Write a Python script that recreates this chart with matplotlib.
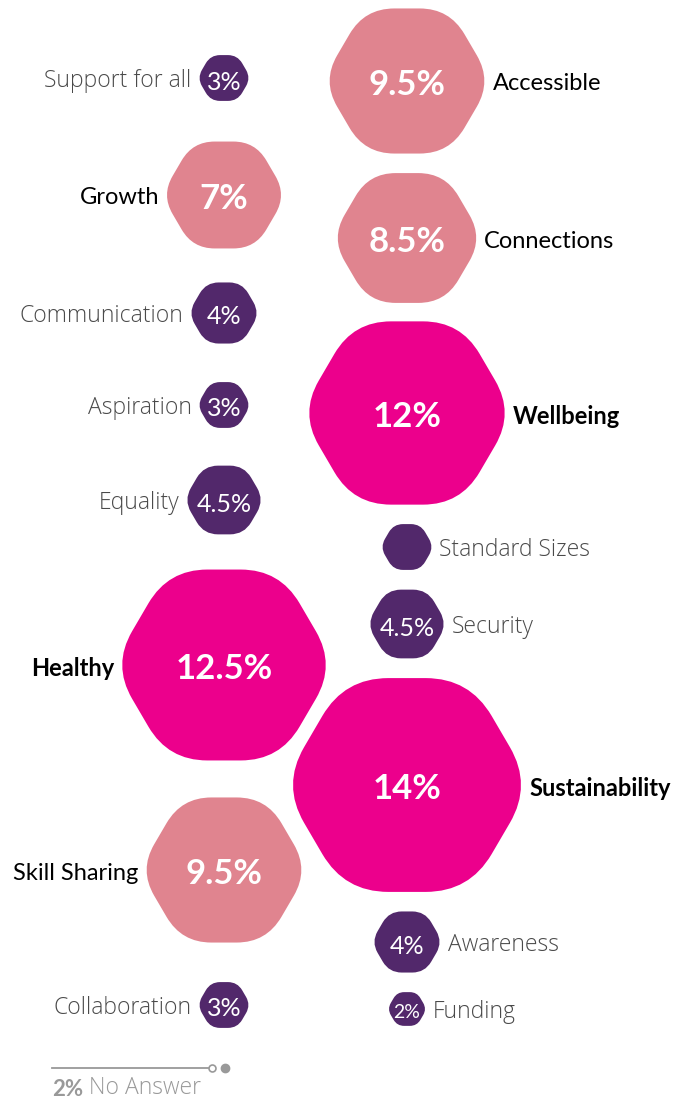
import matplotlib
matplotlib.use('Agg')
import matplotlib.pyplot as plt
from matplotlib.path import Path
from matplotlib.patches import PathPatch
import numpy as np

plt.rcParams['font.family'] = ['Lato', 'DejaVu Sans']
THIN = ['Open Sans', 'DejaVu Sans']

# survey answers
labels = ['Support for all', 'Accessible', 'Growth', 'Connections', 'Communication',
          'Wellbeing', 'Aspiration', 'Equality', 'Security', 'Healthy',
          'Sustainability', 'Skill Sharing', 'Awareness', 'Collaboration', 'Funding']
values = [3, 9.5, 7, 8.5, 4, 12, 3, 4.5, 4.5, 12.5, 14, 9.5, 4, 3, 2]
no_answer = 2
standard_size = 3

# layout: column and vertical centre of each hexagon
side = ['L', 'R', 'L', 'R', 'L', 'R', 'L', 'L', 'R', 'L', 'R', 'L', 'R', 'L', 'R']
ypos = [78, 81, 195, 238, 313, 413, 405, 500, 624, 665, 785, 870, 942, 1005, 1009]
col_x = {'L': 224, 'R': 407}

MAGENTA = '#EC008C'
PINK = '#E0848F'
PURPLE = '#52286B'
GREY = '#4a4a4a'

PX_PER_PCT = 8.15   # half width on screen per percent
MIN_HALF_W = 18     # smallest hexagons still need room for their text
ROUND = 0.35        # corner rounding, fraction of edge


def hexagon(cx, cy, value):
    half_w = max(PX_PER_PCT * value, MIN_HALF_W)
    a = half_w / (1 - 0.25 * ROUND)
    b = 0.855 * a
    pts = np.array([(cx + a, cy), (cx + a / 2, cy + b), (cx - a / 2, cy + b),
                    (cx - a, cy), (cx - a / 2, cy - b), (cx + a / 2, cy - b)])
    verts, codes = [], []
    n = len(pts)
    for i in range(n):
        v = pts[i]
        p = pts[i - 1]
        nx = pts[(i + 1) % n]
        s = v + (p - v) / np.linalg.norm(p - v) * ROUND * a
        e = v + (nx - v) / np.linalg.norm(nx - v) * ROUND * a
        verts += [s, v, e]
        codes += [Path.MOVETO if i == 0 else Path.LINETO, Path.CURVE3, Path.CURVE3]
    verts.append(verts[0])
    codes.append(Path.CLOSEPOLY)
    return Path(verts, codes), half_w


def label_style(value):
    if value >= 12:
        return dict(fontsize=17, fontweight='bold', color='black')
    if value >= 7:
        return dict(fontsize=17, fontweight='normal', color='black')
    return dict(fontsize=16.5, fontweight='light', color=GREY, family=THIN)


def pct_style(value):
    if value >= 7:
        return dict(fontsize=25, fontweight='bold')
    return dict(fontsize=18 if value >= 3 else 14, fontweight='normal')


def fill(value):
    if value >= 12:
        return MAGENTA
    if value >= 7:
        return PINK
    return PURPLE


fig = plt.figure(figsize=(6.78, 10.99), dpi=100)
ax = fig.add_axes([0, 0, 1, 1])
ax.set_xlim(0, 678)
ax.set_ylim(1099, 0)
ax.axis('off')

for lab, val, s, y in zip(labels, values, side, ypos):
    x = col_x[s]
    path, hw = hexagon(x, y, val)
    ax.add_patch(PathPatch(path, facecolor=fill(val), edgecolor='none'))
    ax.text(x, y + 4, f'{val:g}%', color='white', ha='center', va='center',
            **pct_style(val))
    if s == 'L':
        ax.text(x - hw - 8, y + 3, lab, ha='right', va='center', **label_style(val))
    else:
        ax.text(x + hw + 8, y + 3, lab, ha='left', va='center', **label_style(val))

# size key
path, hw = hexagon(col_x['R'], 547, standard_size)
ax.add_patch(PathPatch(path, facecolor=PURPLE, edgecolor='none'))
ax.text(col_x['R'] + hw + 8, 550, 'Standard Sizes', ha='left', va='center',
        **label_style(standard_size))

# no answer footnote
ax.plot([52, 208], [1068, 1068], color='#999999', lw=1.3)
ax.plot([212], [1068], 'o', ms=5, mfc='white', mec='#999999', mew=1.2)
ax.plot([225], [1068], 'o', ms=6, color='#999999')
t = ax.text(52, 1089, f'{no_answer:g}%', ha='left', va='center', fontsize=16,
            fontweight='bold', color='#999999')
ax.annotate(' No Answer', xy=(1, 0), xycoords=t, va='bottom', ha='left',
            fontsize=16.5, fontweight='light', color='#999999', family=THIN)

fig.savefig('out.png', dpi=100)
